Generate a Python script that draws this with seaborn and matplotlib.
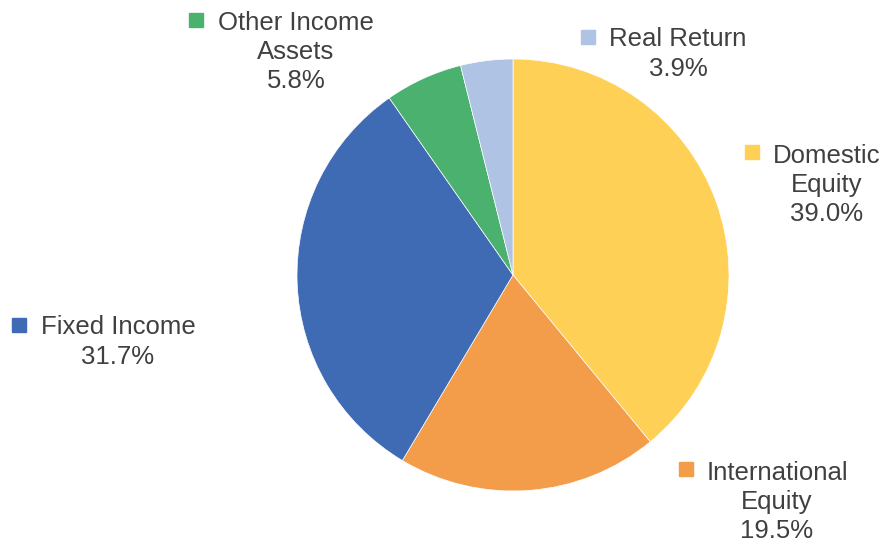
import matplotlib
matplotlib.use("Agg")
import matplotlib.pyplot as plt
import seaborn as sns

# Asset allocation (clockwise from 12 o'clock)
categories = ["Domestic\nEquity", "International\nEquity", "Fixed Income",
              "Other Income\nAssets", "Real Return"]
shares = [39.0, 19.5, 31.7, 5.8, 3.9]
colors = ["#FFD056", "#F39C4A", "#3F6AB4", "#4BB16F", "#AFC4E5"]

# label layout in pixels (x, y from top), marker offset from text block
label_pos = [(827, 185), (777, 502), (118, 342), (296, 52), (678, 54)]
marker_pos = [(752, 152), (686, 469), (19, 325), (196, 20), (588, 37)]

sns.set_theme(style="white")
plt.rcParams["font.family"] = ["Liberation Sans", "DejaVu Sans"]

W, H = 884, 544
fig = plt.figure(figsize=(W / 100, H / 100), dpi=100)
ax = fig.add_axes([0, 0, 1, 1])

ax.pie(shares, colors=colors, startangle=90, counterclock=False,
       center=(513, H - 275), radius=216,
       wedgeprops=dict(edgecolor="white", linewidth=0.5))

for cat, val, (tx, ty), (mx, my), col in zip(categories, shares, label_pos,
                                              marker_pos, colors):
    ax.text(tx, H - ty, f"{cat}\n{val:.1f}%", ha="center", va="center",
            multialignment="center", fontsize=18.5, color="#404040",
            linespacing=1.27)
    ax.plot(mx, H - my, marker="s", markersize=10, color=col, linestyle="none")

ax.set_xlim(0, W)
ax.set_ylim(0, H)
ax.set_aspect("equal")
ax.axis("off")

fig.savefig("out.png", dpi=100)
